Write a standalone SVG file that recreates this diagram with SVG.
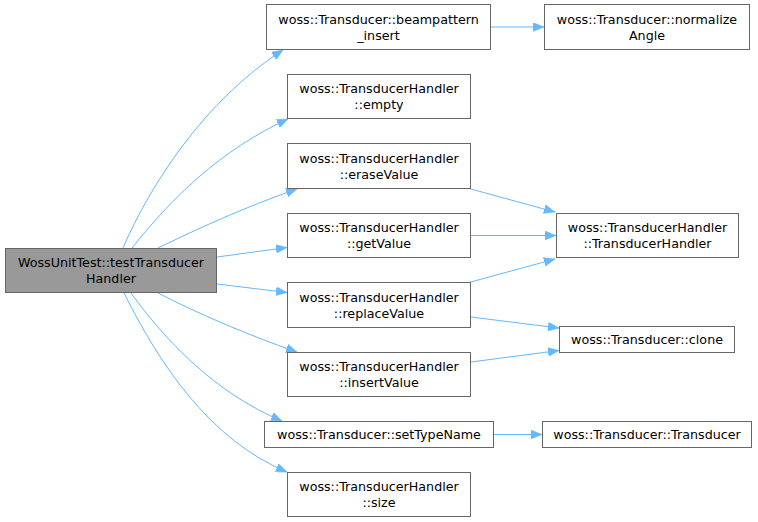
<svg xmlns="http://www.w3.org/2000/svg" width="758" height="522" viewBox="0 0 758 522">
<style>
.n rect{fill:#ffffff;stroke:#666666;stroke-width:1}
.root rect{fill:#999999;stroke:#666666;stroke-width:1}
text{font-family:"DejaVu Sans",Verdana,sans-serif;font-size:12.7px;fill:#000000;text-anchor:middle}
.e path{fill:none;stroke:#63b8ff;stroke-width:1;marker-end:url(#ah)}
</style>
<defs>
<marker id="ah" viewBox="0 0 10 8" refX="10" refY="4" markerWidth="11" markerHeight="9" markerUnits="userSpaceOnUse" orient="auto">
<polygon points="0,0 10,4 0,8" fill="#63b8ff" stroke="#63b8ff" stroke-width="0.5"/>
</marker>
</defs>
<rect width="758" height="522" fill="#ffffff"/>
<g id="edges" class="e">
<path d="M123,248 C150,185 205,100 283,50"/>
<path d="M132,248 C170,200 220,150 288,119"/>
<path d="M158,248 C195,230 245,207 297,189"/>
<path d="M217,257 L287,247.5"/>
<path d="M217,284 L287,292.5"/>
<path d="M158,293 C195,312 245,334 297,352"/>
<path d="M131,293 C165,340 215,393 282,421"/>
<path d="M124,293 C160,365 210,440 287,472"/>
<path d="M491,27 L544,27"/>
<path d="M469,188.5 L555,212"/>
<path d="M471,235.5 L556,235.5"/>
<path d="M469,282.5 L555,259"/>
<path d="M471,317 L559,328"/>
<path d="M471,362 L559,350.5"/>
<path d="M494,434.5 L542,434.5"/>
</g>
<g id="root" class="root"><rect x="5.5" y="248.5" width="211" height="44"/><text x="111" y="267.2">WossUnitTest::testTransducer</text><text x="111" y="283.2">Handler</text></g>
<g id="beampattern" class="n"><rect x="266.5" y="4.5" width="224" height="45"/><text x="378.5" y="23.7">woss::Transducer::beampattern</text><text x="378.5" y="39.7">_insert</text></g>
<g id="normalize" class="n"><rect x="544.5" y="4.5" width="205" height="45"/><text x="647" y="23.7">woss::Transducer::normalize</text><text x="647" y="39.7">Angle</text></g>
<g id="empty" class="n"><rect x="287.5" y="74.5" width="183" height="44"/><text x="379" y="93.2">woss::TransducerHandler</text><text x="379" y="109.2">::empty</text></g>
<g id="erase" class="n"><rect x="287.5" y="143.5" width="183" height="45"/><text x="379" y="162.7">woss::TransducerHandler</text><text x="379" y="178.7">::eraseValue</text></g>
<g id="getValue" class="n"><rect x="287.5" y="213.5" width="183" height="44"/><text x="379" y="232.2">woss::TransducerHandler</text><text x="379" y="248.2">::getValue</text></g>
<g id="replace" class="n"><rect x="287.5" y="282.5" width="183" height="45"/><text x="379" y="301.7">woss::TransducerHandler</text><text x="379" y="317.7">::replaceValue</text></g>
<g id="insert" class="n"><rect x="287.5" y="352.5" width="183" height="44"/><text x="379" y="371.2">woss::TransducerHandler</text><text x="379" y="387.2">::insertValue</text></g>
<g id="setTypeName" class="n"><rect x="264.5" y="421.5" width="229" height="26"/><text x="379" y="438.7">woss::Transducer::setTypeName</text></g>
<g id="size" class="n"><rect x="287.5" y="472.5" width="183" height="44"/><text x="379" y="491.2">woss::TransducerHandler</text><text x="379" y="507.2">::size</text></g>
<g id="THandler" class="n"><rect x="556.5" y="213.5" width="182" height="44"/><text x="647.5" y="232.2">woss::TransducerHandler</text><text x="647.5" y="248.2">::TransducerHandler</text></g>
<g id="clone" class="n"><rect x="559.5" y="326.5" width="175" height="26"/><text x="647" y="343.7">woss::Transducer::clone</text></g>
<g id="Transducer" class="n"><rect x="542.5" y="421.5" width="209" height="26"/><text x="647" y="438.7">woss::Transducer::Transducer</text></g>
</svg>
